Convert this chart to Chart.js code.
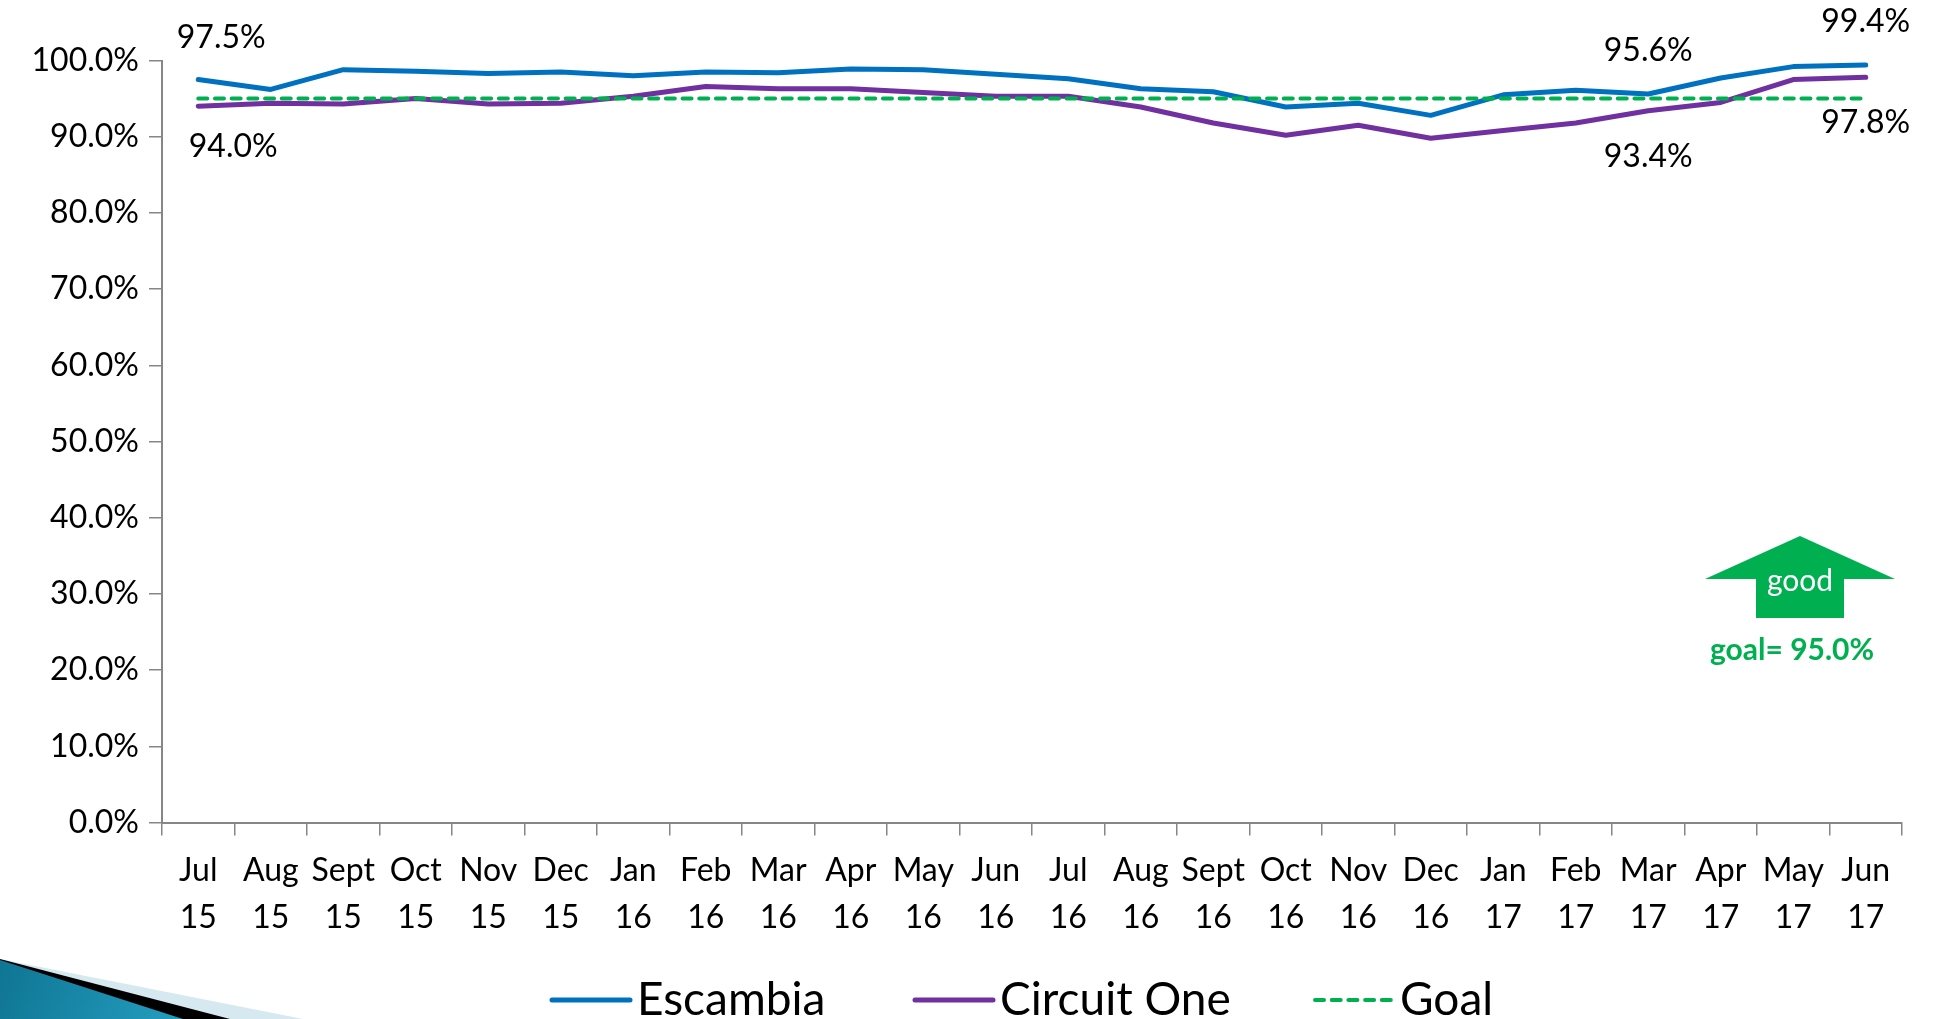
<!DOCTYPE html>
<html lang="en">

<head>
    <meta charset="UTF-8">
    <title>Escambia vs Circuit One</title>
    <script src="https://cdn.jsdelivr.net/npm/chart.js"></script>
    <style>
        html, body {
            margin: 0;
            padding: 0;
            background: #fff;
            overflow: hidden;
        }

        canvas {
            display: block;
        }
    </style>
</head>

<body>
    <canvas id="chart" width="1935" height="1019"></canvas>

    <script>
        const months = ['Jul', 'Aug', 'Sept', 'Oct', 'Nov', 'Dec', 'Jan', 'Feb', 'Mar', 'Apr', 'May', 'Jun',
            'Jul', 'Aug', 'Sept', 'Oct', 'Nov', 'Dec', 'Jan', 'Feb', 'Mar', 'Apr', 'May', 'Jun'];
        const years = ['15', '15', '15', '15', '15', '15', '16', '16', '16', '16', '16', '16',
            '16', '16', '16', '16', '16', '16', '17', '17', '17', '17', '17', '17'];
        const escambia = [97.5, 96.2, 98.8, 98.6, 98.3, 98.5, 98.0, 98.5, 98.4, 98.9, 98.8, 98.2,
            97.6, 96.3, 95.9, 93.9, 94.4, 92.8, 95.5, 96.1, 95.6, 97.7, 99.2, 99.4];
        const circuitOne = [94.0, 94.4, 94.3, 95.0, 94.3, 94.4, 95.3, 96.6, 96.3, 96.3, 95.8, 95.3,
            95.3, 93.9, 91.8, 90.2, 91.5, 89.8, 90.8, 91.8, 93.4, 94.5, 97.5, 97.8];
        const goal = [95, 95, 95, 95, 95, 95, 95, 95, 95, 95, 95, 95,
            95, 95, 95, 95, 95, 95, 95, 95, 95, 95, 95, 95];

        const fontName = 'Lato, sans-serif';
        const BLUE = '#0070C0', PURPLE = '#7030A0', GREEN = '#00B050', AXIS = '#868686';

        // the slide's corner decoration, behind everything else
        const cornerArt = {
            id: 'cornerArt',
            beforeDraw(chart) {
                const c = chart.ctx;
                c.save();
                c.fillStyle = '#d6e8f0';
                c.beginPath();
                c.moveTo(0, 959); c.lineTo(303, 1019); c.lineTo(0, 1019);
                c.fill();
                c.fillStyle = '#000';
                c.beginPath();
                c.moveTo(0, 959); c.lineTo(230, 1019); c.lineTo(0, 1019);
                c.fill();
                const g = c.createLinearGradient(0, 960, 160, 1019);
                g.addColorStop(0, '#0f7593');
                g.addColorStop(1, '#2299bb');
                c.fillStyle = g;
                c.beginPath();
                c.moveTo(0, 960); c.lineTo(183, 1019); c.lineTo(0, 1019);
                c.fill();
                c.restore();
            }
        };

        // value labels next to first, Mar 17 and last points
        const pointLabels = {
            id: 'pointLabels',
            afterDatasetsDraw(chart) {
                const c = chart.ctx, x = chart.scales.x, y = chart.scales.y;
                const marks = [
                    [escambia, 0, 23, -42], [circuitOne, 0, 35, 40],
                    [escambia, 20, 0, -43], [circuitOne, 20, 0, 46],
                    [escambia, 23, 0, -43], [circuitOne, 23, 0, 45]
                ];
                c.save();
                c.font = '32px ' + fontName;
                c.fillStyle = '#000';
                c.textAlign = 'center';
                c.textBaseline = 'middle';
                marks.forEach(([arr, i, dx, dy]) => {
                    c.fillText(arr[i].toFixed(1) + '%', x.getPixelForValue(i) + dx, y.getPixelForValue(arr[i]) + dy);
                });
                c.restore();
            }
        };

        // green "good" arrow and goal text
        const goodArrow = {
            id: 'goodArrow',
            afterDraw(chart) {
                const c = chart.ctx;
                c.save();
                c.fillStyle = GREEN;
                c.beginPath();
                c.moveTo(1800, 536); c.lineTo(1895, 579); c.lineTo(1844, 579); c.lineTo(1844, 618);
                c.lineTo(1756, 618); c.lineTo(1756, 579); c.lineTo(1705, 579);
                c.closePath();
                c.fill();
                c.textAlign = 'center';
                c.textBaseline = 'middle';
                c.fillStyle = '#fff';
                c.font = '30px ' + fontName;
                c.fillText('good', 1800, 581);
                c.fillStyle = GREEN;
                c.font = 'bold 30px ' + fontName;
                c.fillText('goal= ' + goal[0].toFixed(1) + '%', 1792, 650);
                c.restore();
            }
        };

        // legend drawn by hand, the built-in one can't get the sample this close to its text
        const bottomLegend = {
            id: 'bottomLegend',
            afterDraw(chart) {
                const c = chart.ctx;
                const starts = [552, 915, 1315];
                c.save();
                c.textBaseline = 'middle';
                c.font = '46px ' + fontName;
                chart.data.datasets.forEach((ds, i) => {
                    c.strokeStyle = ds.borderColor;
                    c.lineWidth = ds.borderWidth;
                    c.lineCap = 'round';
                    c.setLineDash(ds.borderDash || []);
                    c.beginPath();
                    c.moveTo(starts[i], 1000);
                    c.lineTo(starts[i] + 78, 1000);
                    c.stroke();
                    c.fillStyle = '#000';
                    c.fillText(ds.label, starts[i] + 85, 1000);
                });
                c.restore();
            }
        };

        new Chart(document.getElementById('chart'), {
            type: 'line',
            data: {
                labels: months.map((m, i) => [m, years[i]]),
                datasets: [
                    { label: 'Escambia', data: escambia, borderColor: BLUE, borderWidth: 5, order: 1 },
                    { label: 'Circuit One', data: circuitOne, borderColor: PURPLE, borderWidth: 5, order: 2 },
                    { label: 'Goal', data: goal, borderColor: GREEN, borderWidth: 4, borderDash: [9, 7.7], order: 0 }
                ]
            },
            options: {
                responsive: false,
                animation: false,
                devicePixelRatio: 1,
                layout: { padding: { top: 60.5, right: 33, left: 0, bottom: 0 } },
                elements: {
                    point: { radius: 0 },
                    line: { tension: 0, borderCapStyle: 'round', borderJoinStyle: 'round', fill: false }
                },
                plugins: { legend: { display: false }, tooltip: { enabled: false } },
                scales: {
                    x: {
                        offset: true,
                        afterFit(s) { s.height = 196.5; },
                        grid: { drawOnChartArea: false, color: AXIS, lineWidth: 1.5, tickLength: 13, offset: true },
                        border: { color: AXIS, width: 2 },
                        ticks: {
                            color: '#000', padding: 12, maxRotation: 0, autoSkip: false,
                            font: { family: fontName, size: 32, lineHeight: 1.47 }
                        }
                    },
                    y: {
                        min: 0,
                        max: 100,
                        afterFit(s) { s.width = 162; },
                        grid: { drawOnChartArea: false, color: AXIS, lineWidth: 1.5, tickLength: 13 },
                        border: { color: AXIS, width: 2 },
                        ticks: {
                            color: '#000', padding: 10, stepSize: 10,
                            font: { family: fontName, size: 32 },
                            callback: v => v.toFixed(1) + '%'
                        }
                    }
                }
            },
            plugins: [cornerArt, pointLabels, goodArrow, bottomLegend]
        });
    </script>
</body>

</html>
